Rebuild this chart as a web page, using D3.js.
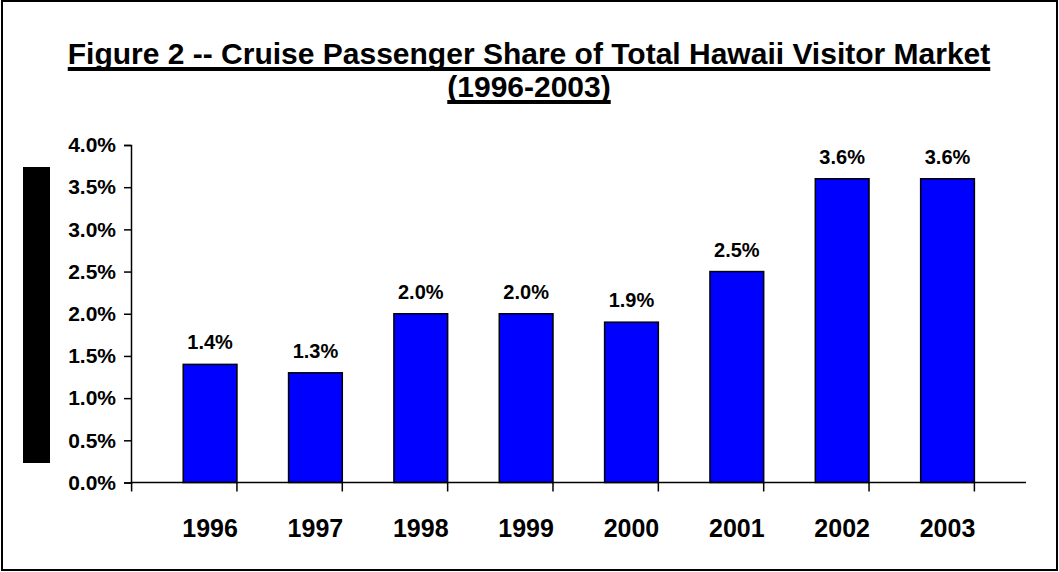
<!DOCTYPE html>
<html>
<head>
<meta charset="utf-8">
<script src="https://cdn.jsdelivr.net/npm/d3@7"></script>
<style>
  body { margin: 0; background: #fff; }
  text { font-family: "Liberation Sans", Arial, sans-serif; font-weight: bold; fill: #000; }
</style>
</head>
<body>
<svg id="chart" width="1059" height="572"></svg>
<script>
// chart data
var years = ['1996', '1997', '1998', '1999', '2000', '2001', '2002', '2003'];
var share = [1.4, 1.3, 2.0, 2.0, 1.9, 2.5, 3.6, 3.6];
var yTicks = [0, 0.5, 1.0, 1.5, 2.0, 2.5, 3.0, 3.5, 4.0];
var titleLines = ['Figure 2 -- Cruise Passenger Share of Total Hawaii Visitor Market', '(1996-2003)'];

var svg = d3.select('#chart');

// outer frame
svg.append('rect')
    .attr('x', 2).attr('y', 1)
    .attr('width', 1055).attr('height', 569)
    .style('fill', 'none')
    .style('stroke', '#000')
    .style('stroke-width', 2);

// title, underlined
titleLines.forEach(function (line, i) {
    var by = 64 + i * 33;
    var t = svg.append('text')
        .attr('x', 529)
        .attr('y', by)
        .attr('text-anchor', 'middle')
        .style('font-size', '30px')
        .text(line);
    var w = t.node().getComputedTextLength();
    svg.append('rect')
        .attr('x', 529 - w / 2)
        .attr('y', by + 3)
        .attr('width', w)
        .attr('height', 4)
        .style('fill', '#000');
});

// black block where the axis title would be
svg.append('rect')
    .attr('x', 23).attr('y', 167)
    .attr('width', 27).attr('height', 296)
    .style('fill', '#000');

var x = d3.scaleBand()
    .domain(years)
    .range([131.6, 1026])
    .padding(0.49);

var y = d3.scaleLinear()
    .domain([0, 4])
    .range([482.5, 145]);

// bars
svg.selectAll('rect.bar')
    .data(share)
    .enter()
    .append('rect')
    .attr('class', 'bar')
    .attr('x', function (d, i) { return x(years[i]); })
    .attr('y', function (d) { return y(d); })
    .attr('width', x.bandwidth())
    .attr('height', function (d) { return y(0) - y(d); })
    .style('fill', '#0000ff')
    .style('stroke', '#000')
    .style('stroke-width', 1.5);

// value labels
svg.selectAll('text.val')
    .data(share)
    .enter()
    .append('text')
    .attr('class', 'val')
    .attr('x', function (d, i) { return x(years[i]) + x.bandwidth() / 2; })
    .attr('y', function (d) { return y(d) - 15; })
    .attr('text-anchor', 'middle')
    .style('font-size', '20px')
    .text(function (d) { return d.toFixed(1) + '%'; });

// y axis
var yAxis = d3.axisLeft(y)
    .tickValues(yTicks)
    .tickSize(7)
    .tickPadding(8)
    .tickFormat(function (d) { return d.toFixed(1) + '%'; });

var yg = svg.append('g')
    .attr('transform', 'translate(131,0)')
    .call(yAxis);
yg.select('.domain').style('stroke', '#000').style('stroke-width', 1.5);
yg.selectAll('.tick line').style('stroke', '#000').style('stroke-width', 1.5);
yg.selectAll('.tick text')
    .style('font-size', '21px')
    .style('font-family', '"Liberation Sans", Arial, sans-serif')
    .style('font-weight', 'bold');

// x axis: ticks on category boundaries
var step = x.step();
var x0 = x.range()[0];
var bounds = d3.range(years.length + 1).map(function (i) { return x0 + i * step; });

svg.append('line')
    .attr('x1', x0).attr('x2', x.range()[1])
    .attr('y1', y(0)).attr('y2', y(0))
    .style('stroke', '#000')
    .style('stroke-width', 1.5);

svg.selectAll('line.xtick')
    .data(bounds)
    .enter()
    .append('line')
    .attr('class', 'xtick')
    .attr('x1', function (d) { return d; })
    .attr('x2', function (d) { return d; })
    .attr('y1', y(0))
    .attr('y2', y(0) + 9)
    .style('stroke', '#000')
    .style('stroke-width', 1.5);

svg.selectAll('text.xlab')
    .data(years)
    .enter()
    .append('text')
    .attr('class', 'xlab')
    .attr('x', function (d) { return x(d) + x.bandwidth() / 2; })
    .attr('y', 537)
    .attr('text-anchor', 'middle')
    .style('font-size', '25px')
    .text(function (d) { return d; });
</script>
</body>
</html>
